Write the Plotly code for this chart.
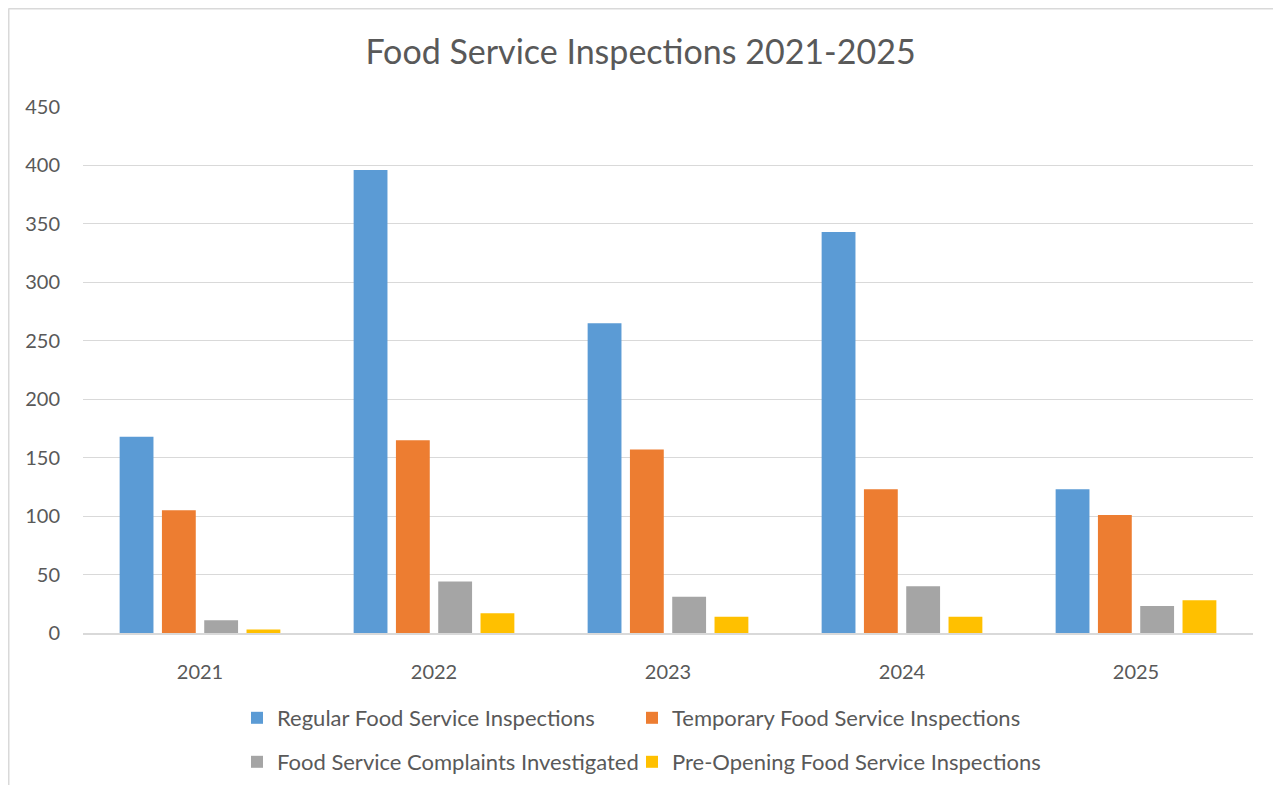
import plotly.graph_objects as go

years = ["2021", "2022", "2023", "2024", "2025"]
regular = [168, 396, 265, 343, 123]
temporary = [105, 165, 157, 123, 101]
complaints = [11, 44, 31, 40, 23]
pre_opening = [3, 17, 14, 14, 28]

series_names = [
    "Regular Food Service Inspections",
    "Temporary Food Service Inspections",
    "Food Service Complaints Investigated",
    "Pre-Opening Food Service Inspections",
]
colors = ["#5B9BD5", "#ED7D31", "#A5A5A5", "#FFC000"]
legend_ids = ["legend", "legend2", "legend3", "legend4"]

# page is drawn with an 8px body margin
OFF = 8
W, H = 1265, 777
L, R, T, B = 83 - OFF, OFF + W - 1253, 107 - OFF, OFF + H - 633
FONT = "Lato"
TXT = "#595959"

fig = go.Figure()
for name, vals, col, lg in zip(series_names, [regular, temporary, complaints, pre_opening], colors, legend_ids):
    fig.add_trace(go.Bar(x=years, y=vals, name=name, marker=dict(color=col, line=dict(width=0)), legend=lg))

def px_x(p):
    return (p - OFF - L) / (W - L - R)

def px_y(p):
    return (H - B - (p - OFF)) / (H - T - B)

def leg(xp, yp):
    return dict(orientation="h", x=px_x(xp), xanchor="left", y=px_y(yp), yanchor="middle",
                bgcolor="rgba(0,0,0,0)", borderwidth=0,
                font=dict(size=22, color=TXT, family=FONT), itemclick=False, itemdoubleclick=False)

fig.update_layout(
    width=W, height=H,
    margin=dict(l=L, r=R, t=T, b=B, autoexpand=False),
    paper_bgcolor="white", plot_bgcolor="white",
    font=dict(family=FONT, color=TXT, size=22),
    title=dict(text="Food Service Inspections 2021-2025", x=0.5, xanchor="center",
               y=1 - (52 - OFF) / H, yanchor="middle", font=dict(size=34, color=TXT, family=FONT)),
    barmode="group", bargap=0.277, bargroupgap=0.2,
    showlegend=True,
    legend=leg(237, 718),
    legend2=leg(632, 718),
    legend3=leg(237, 762),
    legend4=leg(632, 762),
    xaxis=dict(showgrid=False, showline=True, linecolor="#D9D9D9", linewidth=1.5,
               ticks="", tickfont=dict(size=20, color=TXT, family=FONT), ticklabelstandoff=20),
    yaxis=dict(range=[0, 450], dtick=50, showgrid=True, gridcolor="#D9D9D9", gridwidth=1.3,
               zeroline=False, showline=False, ticks="",
               tickfont=dict(size=20, color=TXT, family=FONT), ticklabelstandoff=22),
    shapes=[
        dict(type="line", xref="paper", yref="paper", x0=px_x(8.5), x1=px_x(1281), y0=px_y(8.75), y1=px_y(8.75),
             line=dict(color="#D9D9D9", width=1.5)),
        dict(type="line", xref="paper", yref="paper", x0=px_x(8.75), x1=px_x(8.75), y0=px_y(8.5), y1=px_y(793),
             line=dict(color="#D9D9D9", width=1.5)),
    ],
)

fig.write_html("out.html")
